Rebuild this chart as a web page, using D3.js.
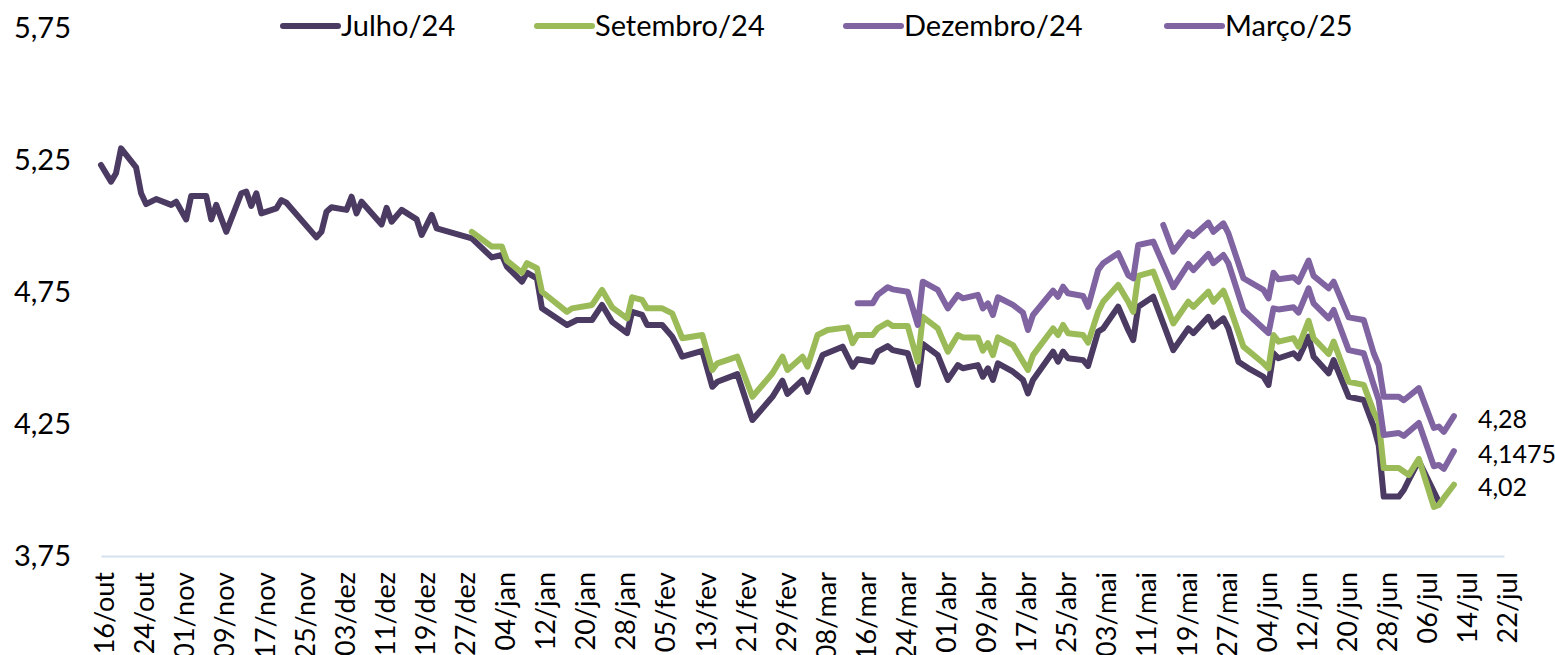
<!DOCTYPE html>
<html>
<head>
<meta charset="utf-8">
<script src="https://cdn.jsdelivr.net/npm/d3@7"></script>
<style>
  html, body { margin: 0; padding: 0; background: #fff; }
  svg { display: block; font-family: Lato, "Open Sans", sans-serif; }
</style>
</head>
<body>
<svg id="chart" width="1555" height="655"></svg>
<script>
// Series names (legend order = draw order)
const seriesNames = ["Julho/24", "Setembro/24", "Dezembro/24", "Março/25"];
const seriesColors = ["#4b3a62", "#9bbb59", "#8064a2", "#8064a2"];

// Daily readings per contract: [date, value]
const julho24 = [
  ["2023-10-16",5.231],["2023-10-18",5.168],["2023-10-19",5.200],["2023-10-20",5.294],["2023-10-23",5.222],
  ["2023-10-24",5.124],["2023-10-25",5.083],["2023-10-27",5.102],["2023-10-30",5.080],["2023-10-31",5.092],
  ["2023-11-02",5.025],["2023-11-03",5.114],["2023-11-06",5.114],["2023-11-07",5.025],["2023-11-08",5.080],
  ["2023-11-10",4.978],["2023-11-13",5.124],["2023-11-14",5.130],["2023-11-15",5.076],["2023-11-16",5.124],
  ["2023-11-17",5.048],["2023-11-20",5.067],["2023-11-21",5.098],["2023-11-22",5.088],["2023-11-28",4.957],
  ["2023-11-29",4.978],["2023-11-30",5.054],["2023-12-01",5.071],["2023-12-04",5.061],["2023-12-05",5.111],
  ["2023-12-06",5.048],["2023-12-07",5.092],["2023-12-11",5.006],["2023-12-12",5.069],["2023-12-13",5.016],
  ["2023-12-15",5.061],["2023-12-18",5.025],["2023-12-19",4.966],["2023-12-21",5.042],["2023-12-22",4.991],
  ["2023-12-29",4.953],["2024-01-02",4.881],["2024-01-04",4.890],["2024-01-05",4.846],["2024-01-08",4.789],
  ["2024-01-09",4.823],["2024-01-11",4.802],["2024-01-12",4.688],["2024-01-17",4.625],["2024-01-19",4.644],
  ["2024-01-22",4.644],["2024-01-24",4.701],["2024-01-26",4.637],["2024-01-29",4.594],["2024-01-30",4.675],
  ["2024-02-01",4.663],["2024-02-02",4.625],["2024-02-05",4.625],["2024-02-07",4.581],["2024-02-08",4.545],
  ["2024-02-09",4.505],["2024-02-13",4.527],["2024-02-15",4.391],["2024-02-16",4.410],["2024-02-20",4.439],
  ["2024-02-23",4.265],["2024-02-27",4.353],["2024-02-29",4.414],["2024-03-01",4.364],["2024-03-04",4.417],
  ["2024-03-05",4.372],["2024-03-08",4.511],["2024-03-12",4.543],["2024-03-14",4.467],["2024-03-15",4.495],
  ["2024-03-18",4.486],["2024-03-19",4.524],["2024-03-21",4.545],["2024-03-22",4.530],["2024-03-25",4.518],
  ["2024-03-27",4.398],["2024-03-28",4.553],["2024-03-31",4.511],["2024-04-02",4.417],["2024-04-04",4.473],
  ["2024-04-05",4.461],["2024-04-08",4.473],["2024-04-09",4.429],["2024-04-10",4.461],["2024-04-11",4.417],
  ["2024-04-12",4.480],["2024-04-15",4.448],["2024-04-17",4.417],["2024-04-18",4.366],["2024-04-19",4.417],
  ["2024-04-23",4.524],["2024-04-24",4.486],["2024-04-25",4.524],["2024-04-26",4.499],["2024-04-29",4.492],
  ["2024-04-30",4.470],["2024-05-02",4.600],["2024-05-03",4.612],["2024-05-06",4.694],["2024-05-08",4.606],
  ["2024-05-09",4.568],["2024-05-10",4.694],["2024-05-13",4.732],["2024-05-17",4.530],["2024-05-20",4.612],
  ["2024-05-21",4.594],["2024-05-24",4.656],["2024-05-25",4.619],["2024-05-27",4.650],["2024-05-28",4.612],
  ["2024-05-30",4.486],["2024-06-01",4.461],["2024-06-04",4.429],["2024-06-05",4.398],["2024-06-06",4.518],
  ["2024-06-07",4.499],["2024-06-10",4.518],["2024-06-11",4.499],["2024-06-13",4.581],["2024-06-14",4.505],
  ["2024-06-17",4.442],["2024-06-18",4.492],["2024-06-21",4.353],["2024-06-24",4.341],["2024-06-26",4.240],
  ["2024-06-27",4.170],["2024-06-28",3.975],["2024-07-01",3.975],["2024-07-02",4.000],["2024-07-03",4.038],
  ["2024-07-05",4.110],["2024-07-09",3.955]
];

const setembro24 = [
  ["2023-12-29",4.978],["2024-01-02",4.922],["2024-01-04",4.922],["2024-01-05",4.869],["2024-01-08",4.823],
  ["2024-01-09",4.859],["2024-01-11",4.840],["2024-01-12",4.751],["2024-01-17",4.675],["2024-01-18",4.688],
  ["2024-01-22",4.701],["2024-01-24",4.758],["2024-01-26",4.692],["2024-01-29",4.650],["2024-01-30",4.730],
  ["2024-02-01",4.720],["2024-02-02",4.688],["2024-02-05",4.688],["2024-02-07",4.669],["2024-02-09",4.575],
  ["2024-02-13",4.587],["2024-02-15",4.455],["2024-02-16",4.480],["2024-02-20",4.505],["2024-02-23",4.353],
  ["2024-02-27",4.442],["2024-02-29",4.505],["2024-03-01",4.455],["2024-03-04",4.505],["2024-03-05",4.467],
  ["2024-03-07",4.587],["2024-03-09",4.606],["2024-03-13",4.616],["2024-03-14",4.556],["2024-03-15",4.587],
  ["2024-03-18",4.587],["2024-03-19",4.612],["2024-03-21",4.634],["2024-03-22",4.621],["2024-03-25",4.621],
  ["2024-03-27",4.486],["2024-03-28",4.656],["2024-03-31",4.612],["2024-04-02",4.524],["2024-04-04",4.587],
  ["2024-04-05",4.578],["2024-04-08",4.578],["2024-04-09",4.528],["2024-04-10",4.556],["2024-04-11",4.511],
  ["2024-04-12",4.578],["2024-04-15",4.549],["2024-04-18",4.455],["2024-04-19",4.511],["2024-04-23",4.612],
  ["2024-04-24",4.587],["2024-04-25",4.625],["2024-04-26",4.594],["2024-04-29",4.587],["2024-04-30",4.558],
  ["2024-05-02",4.675],["2024-05-03",4.713],["2024-05-06",4.777],["2024-05-08",4.713],["2024-05-09",4.675],
  ["2024-05-10",4.811],["2024-05-13",4.827],["2024-05-17",4.631],["2024-05-20",4.713],["2024-05-21",4.694],
  ["2024-05-24",4.751],["2024-05-25",4.713],["2024-05-27",4.755],["2024-05-28",4.707],["2024-05-31",4.543],
  ["2024-06-04",4.480],["2024-06-05",4.461],["2024-06-06",4.587],["2024-06-07",4.562],["2024-06-10",4.575],
  ["2024-06-11",4.543],["2024-06-13",4.641],["2024-06-14",4.575],["2024-06-17",4.515],["2024-06-18",4.562],
  ["2024-06-21",4.410],["2024-06-24",4.398],["2024-06-26",4.297],["2024-06-27",4.259],["2024-06-28",4.083],
  ["2024-07-01",4.083],["2024-07-03",4.057],["2024-07-05",4.118],["2024-07-08",3.936],["2024-07-09",3.943],
  ["2024-07-10",3.970],["2024-07-12",4.02]
];

const dezembro24 = [
  ["2024-03-15",4.707],["2024-03-18",4.707],["2024-03-19",4.739],["2024-03-21",4.768],["2024-03-22",4.760],
  ["2024-03-25",4.751],["2024-03-27",4.625],["2024-03-28",4.789],["2024-03-31",4.758],["2024-04-02",4.688],
  ["2024-04-04",4.739],["2024-04-05",4.726],["2024-04-08",4.739],["2024-04-09",4.688],["2024-04-10",4.707],
  ["2024-04-11",4.663],["2024-04-12",4.730],["2024-04-15",4.701],["2024-04-17",4.672],["2024-04-18",4.606],
  ["2024-04-19",4.663],["2024-04-23",4.755],["2024-04-24",4.732],["2024-04-25",4.770],["2024-04-26",4.745],
  ["2024-04-29",4.735],["2024-04-30",4.694],["2024-05-02",4.833],["2024-05-03",4.859],["2024-05-06",4.897],
  ["2024-05-08",4.814],["2024-05-09",4.802],["2024-05-10",4.928],["2024-05-13",4.941],["2024-05-17",4.768],
  ["2024-05-20",4.856],["2024-05-21",4.833],["2024-05-24",4.894],["2024-05-25",4.859],["2024-05-27",4.890],
  ["2024-05-28",4.859],["2024-05-31",4.682],["2024-06-04",4.612],["2024-06-05",4.594],["2024-06-06",4.688],
  ["2024-06-07",4.684],["2024-06-10",4.692],["2024-06-11",4.672],["2024-06-13",4.764],["2024-06-14",4.707],
  ["2024-06-17",4.650],["2024-06-18",4.682],["2024-06-21",4.530],["2024-06-24",4.518],["2024-06-26",4.398],
  ["2024-06-27",4.341],["2024-06-28",4.208],["2024-07-01",4.216],["2024-07-02",4.205],["2024-07-05",4.254],
  ["2024-07-08",4.090],["2024-07-09",4.095],["2024-07-10",4.080],["2024-07-12",4.1475]
];

const marco25 = [
  ["2024-05-15",5.004],["2024-05-17",4.903],["2024-05-20",4.976],["2024-05-21",4.962],["2024-05-24",5.013],
  ["2024-05-25",4.978],["2024-05-27",5.010],["2024-05-28",4.972],["2024-05-31",4.802],["2024-06-04",4.758],
  ["2024-06-05",4.726],["2024-06-06",4.823],["2024-06-07",4.798],["2024-06-10",4.806],["2024-06-11",4.789],
  ["2024-06-13",4.869],["2024-06-14",4.811],["2024-06-17",4.764],["2024-06-18",4.789],["2024-06-21",4.654],
  ["2024-06-24",4.644],["2024-06-26",4.518],["2024-06-27",4.473],["2024-06-28",4.353],["2024-07-01",4.353],
  ["2024-07-02",4.340],["2024-07-05",4.386],["2024-07-08",4.235],["2024-07-09",4.240],["2024-07-10",4.220],
  ["2024-07-12",4.28]
];

// Contracts whose last reading is labelled at the line end
const labelledSeries = ["Setembro/24", "Dezembro/24", "Março/25"];

// Axis settings
const yTicks = [3.75, 4.25, 4.75, 5.25, 5.75];
const xStart = "2023-10-16";
const xEnd = "2024-07-22";
const xTickStepDays = 8;
const shortMonthsPt = ["jan","fev","mar","abr","mai","jun","jul","ago","set","out","nov","dez"];

// ---------------------------------------------------------------
const parse = d3.timeParse("%Y-%m-%d");
const ptTime = d3.timeFormatLocale({
  dateTime: "%d/%m/%Y %H:%M:%S", date: "%d/%m/%Y", time: "%H:%M:%S",
  periods: ["AM", "PM"],
  days: ["domingo","segunda","terça","quarta","quinta","sexta","sábado"],
  shortDays: ["dom","seg","ter","qua","qui","sex","sáb"],
  months: ["janeiro","fevereiro","março","abril","maio","junho","julho","agosto","setembro","outubro","novembro","dezembro"],
  shortMonths: shortMonthsPt
});
const ptNum = d3.formatLocale({ decimal: ",", thousands: ".", grouping: [3], currency: ["R$ ", ""] });
const fmtTick = ptTime.format("%d/%b");
const fmtY = ptNum.format(".2f");
const fmtValue = v => String(v).replace(".", ",");

const rawSeries = [julho24, setembro24, dezembro24, marco25];
const series = seriesNames.map((name, i) => ({
  name,
  color: seriesColors[i],
  values: rawSeries[i].map(([d, v]) => ({ date: parse(d), value: v }))
}));

const svg = d3.select("#chart");
const margin = { left: 101, right: 51, top: 28, bottom: 99 };
const W = +svg.attr("width"), H = +svg.attr("height");

const x = d3.scaleTime()
  .domain([parse(xStart), parse(xEnd)])
  .range([margin.left, W - margin.right]);
const y = d3.scaleLinear()
  .domain([3.75, 5.75])
  .range([H - margin.bottom, margin.top]);

// X axis
const nTicks = Math.round(d3.timeDay.count(parse(xStart), parse(xEnd)) / xTickStepDays);
const xTickValues = d3.range(0, nTicks + 1).map(i => d3.timeDay.offset(parse(xStart), i * xTickStepDays));

const gx = svg.append("g")
  .attr("transform", `translate(0,${y(3.75)})`)
  .call(d3.axisBottom(x).tickValues(xTickValues).tickFormat(fmtTick).tickSize(0).tickSizeOuter(0));
gx.select(".domain").attr("stroke", "#d5e1f1").attr("stroke-width", 2);
gx.selectAll("text")
  .attr("font-family", "Lato, sans-serif")
  .attr("font-size", 27)
  .attr("fill", "#000")
  .attr("text-anchor", "end")
  .attr("transform", "rotate(-90)")
  .attr("x", -16)
  .attr("y", 3)
  .attr("dy", "0.36em");

// Y axis
const gy = svg.append("g")
  .attr("transform", `translate(${margin.left},0)`)
  .call(d3.axisLeft(y).tickValues(yTicks).tickFormat(fmtY).tickSize(0));
gy.select(".domain").remove();
gy.selectAll("text")
  .attr("font-family", "Lato, sans-serif")
  .attr("font-size", 29)
  .attr("fill", "#000")
  .attr("x", -30)
  .attr("dy", "0.34em");

// Lines
const line = d3.line().x(d => x(d.date)).y(d => y(d.value));
svg.append("g").selectAll("path")
  .data(series)
  .join("path")
  .attr("d", s => line(s.values))
  .attr("fill", "none")
  .attr("stroke", s => s.color)
  .attr("stroke-width", 6)
  .attr("stroke-linejoin", "round")
  .attr("stroke-linecap", "round");

// End-of-line value labels
svg.append("g").selectAll("text")
  .data(series.filter(s => labelledSeries.includes(s.name)))
  .join("text")
  .attr("x", s => x(s.values[s.values.length - 1].date) + 24)
  .attr("y", s => y(s.values[s.values.length - 1].value) + 3)
  .attr("dy", "0.35em")
  .attr("font-size", 25)
  .attr("fill", "#000")
  .text(s => fmtValue(s.values[s.values.length - 1].value));

// Legend
const legendX = [283, 537, 846, 1167];
const legend = svg.append("g").selectAll("g")
  .data(series)
  .join("g")
  .attr("transform", (s, i) => `translate(${legendX[i]},26)`);
legend.append("line")
  .attr("x1", 0).attr("x2", 55)
  .attr("stroke", s => s.color)
  .attr("stroke-width", 6)
  .attr("stroke-linecap", "round");
legend.append("text")
  .attr("x", 58)
  .attr("dy", "0.35em")
  .attr("font-size", 29)
  .attr("fill", "#000")
  .text(s => s.name);
</script>
</body>
</html>
